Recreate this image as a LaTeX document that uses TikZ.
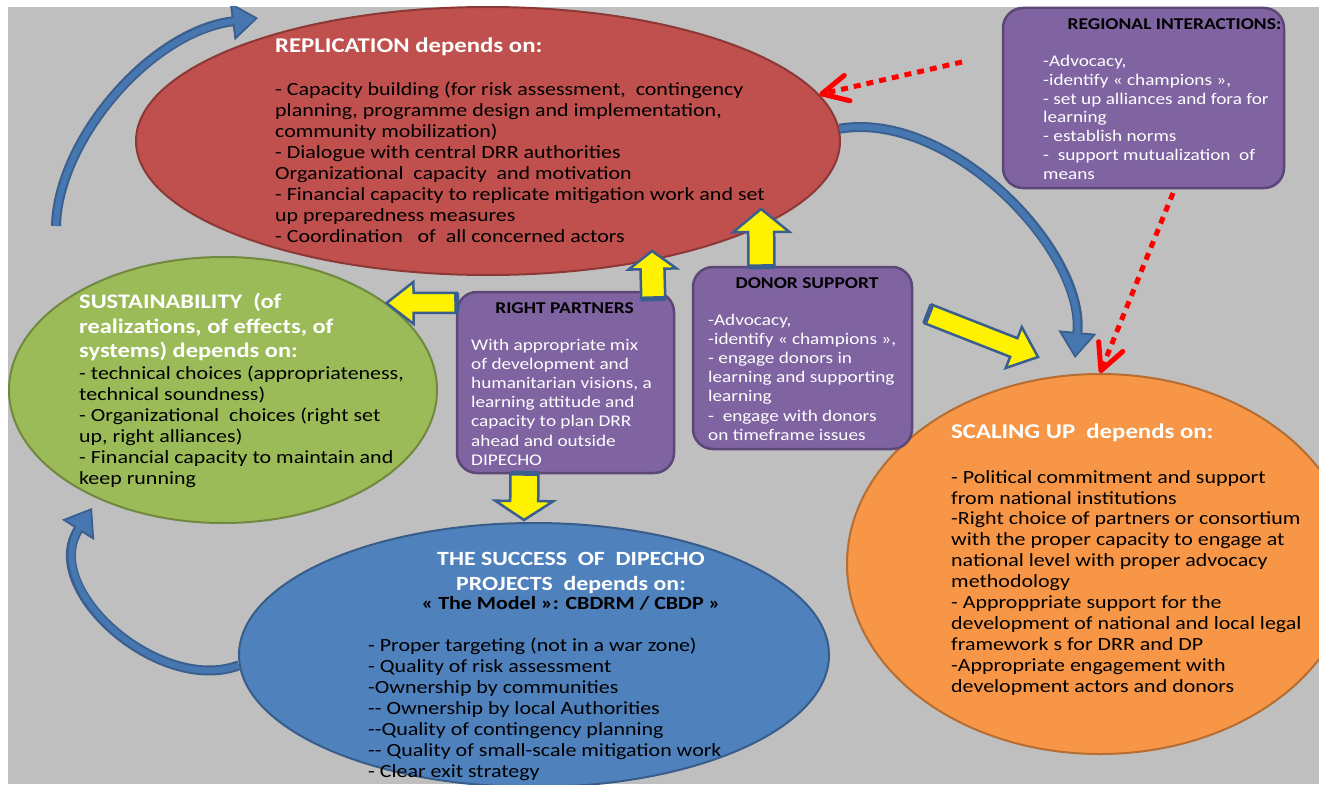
\documentclass[tikz,border=0pt]{standalone}
\usepackage{fontspec}
\setmainfont{Carlito}[FakeStretch=1.18]
\usetikzlibrary{shapes.geometric,arrows.meta,calc}

\definecolor{bggray}{HTML}{BFBFBF}
\definecolor{repred}{HTML}{C0504D}
\definecolor{repline}{HTML}{8C3836}
\definecolor{susgreen}{HTML}{9BBB59}
\definecolor{susline}{HTML}{71893F}
\definecolor{blufill}{HTML}{4F81BD}
\definecolor{bluline}{HTML}{385D8A}
\definecolor{orafill}{HTML}{F79646}
\definecolor{oraline}{HTML}{B66D31}
\definecolor{purfill}{HTML}{8064A2}
\definecolor{purline}{HTML}{5C4776}
\definecolor{arrline}{HTML}{3A5F8E}
\definecolor{arrfill}{HTML}{4777B0}

\tikzset{
  oval/.style={ellipse, inner sep=0pt, line width=2pt},
  bubble/.style={rectangle, rounded corners=20pt, fill=purfill, draw=purline, line width=2.5pt, inner sep=0pt},
  ovalhead/.style={anchor=north west, inner sep=0pt, align=left, text=white, font=\bfseries\fontsize{21}{24}\selectfont},
  ovaltext/.style={anchor=north west, inner sep=0pt, align=left, font=\fontsize{18.6}{20.9}\selectfont},
  bubblehead/.style={anchor=north, inner sep=0pt, font=\bfseries\fontsize{16.5}{19}\selectfont},
  bubbletext/.style={anchor=north west, inner sep=0pt, align=left, text=white, font=\fontsize{16.3}{19.1}\selectfont},
  yellowarrow/.style={fill=yellow, draw=arrline, line width=2.5pt, line join=miter},
  curveback/.style={draw=arrline, line width=10pt, -{Triangle[length=26pt,width=38pt,line width=1pt]}},
  curvefront/.style={draw=arrfill, line width=6pt, shorten >=3pt, -{Triangle[length=21pt,width=30pt,line width=1pt]}},
  reddots/.style={draw=red, line width=5pt, dash pattern=on 7pt off 6pt, -{Straight Barb[length=26pt,width=26pt,round]}}
}

% tail, tip, half shaft, half head, head length
\newcommand{\blockarrow}[5]{%
  \coordinate (ba-a) at #1;
  \coordinate (ba-b) at #2;
  \coordinate (ba-c) at ($(ba-b)!#5pt!(ba-a)$);
  \draw[yellowarrow] ($(ba-a)!#3pt!90:(ba-b)$) -- ($(ba-c)!#3pt!-90:(ba-a)$)
    -- ($(ba-c)!#4pt!-90:(ba-a)$) -- (ba-b) -- ($(ba-c)!#4pt!90:(ba-a)$)
    -- ($(ba-c)!#3pt!90:(ba-a)$) -- ($(ba-a)!#3pt!-90:(ba-b)$) -- cycle;
  \draw[arrline, line width=5pt] ($(ba-a)!#3pt!90:(ba-b)$) -- ($(ba-a)!#3pt!-90:(ba-b)$);
}

\begin{document}
\begin{tikzpicture}[x=1pt, y=-1pt, line join=round]
\useasboundingbox (0,0) rectangle (1319,784);
\fill[white] (0,0) rectangle (1319,784);
\begin{scope}
\clip (8,7) rectangle (1319,784);
\fill[bggray] (8,7) rectangle (1319,784);

% the four ovals
\node[oval, fill=repred, draw=repline, minimum width=704pt, minimum height=268pt] (rep) at (488,141) {};
\node[oval, fill=susgreen, draw=susline, minimum width=428pt, minimum height=266pt] (sus) at (223,390) {};
\node[oval, fill=blufill, draw=bluline, minimum width=590pt, minimum height=264pt] (blu) at (534,655) {};
\node[oval, fill=orafill, draw=oraline, minimum width=506pt, minimum height=380pt] (scl) at (1100,564) {};

% the three boxes
\node[bubble, minimum width=217pt, minimum height=181pt] (rp) at (565.5,382.5) {};
\node[bubble, minimum width=219pt, minimum height=182pt] (don) at (802.5,358) {};
\node[bubble, minimum width=281pt, minimum height=180pt] (reg) at (1143.5,98) {};

% free ends
\coordinate (susout) at (56,226);
\coordinate (repin) at (258,18);
\coordinate (susin) at (92,508);
\coordinate (sclin) at (1075,358);
\coordinate (regout) at (962,62);
\coordinate (regdown) at (1173,193);

% yellow arrows
\blockarrow{($(rp.north west)+(1,12)$)}{(sus.28)}{10}{21}{27}
\blockarrow{($(rp.north east)+(-22,8)$)}{($(rep.south)+(164,-25)$)}{12}{24}{18}
\blockarrow{($(don.north)+(-41,1)$)}{($(rep.south)+(273,-67)$)}{13}{28}{23}
\blockarrow{($(rp.south)+(-41,-1)$)}{($(blu.north)+(-10,-2)$)}{14}{29}{19}
\blockarrow{($(don.east)+(15,-44)$)}{($(scl.north)+(-62,-16)$)}{10}{22}{26}

% blue curved arrows
\foreach \sty in {curveback,curvefront}{
\draw[\sty] (susout) .. controls (58,140) and (150,32) .. (repin);
\draw[\sty] (blu.182) .. controls (160,695) and (40,590) .. (susin);
\draw[\sty] (rep.2) .. controls (950,110) and (1085,250) .. (sclin);
}

% red dotted arrows
\draw[reddots] (regout) -- (rep.8);
\draw[reddots] (regdown) -- (scl.north);

% texts
\node[ovalhead] (rept) at (275,38) {REPLICATION depends on:};
\node[ovaltext] (repb) at (275,82) {- Capacity building (for risk assessment,\ \ contingency\\
planning, programme design and implementation,\\
community mobilization)\\
- Dialogue with central DRR authorities\\
Organizational\ \ capacity\ \ and motivation\\
- Financial capacity to replicate mitigation work and set\\
up preparedness measures\\
- Coordination\ \ \ of\ \ all concerned actors};

\node[ovalhead, font=\bfseries\fontsize{20.7}{24.6}\selectfont] (sust) at (79,293) {SUSTAINABILITY\ \ (of\\
realizations, of effects, of\\
systems) depends on:};
\node[ovaltext] (susb) at (79,366) {- technical choices (appropriateness,\\
technical soundness)\\
- Organizational\ \ choices (right set\\
up, right alliances)\\
- Financial capacity to maintain and\\
keep running};

\node[ovalhead, anchor=north, align=center, font=\bfseries\fontsize{20.2}{25}\selectfont] (blut) at (571,552) {THE SUCCESS\ \ OF\ \ DIPECHO\\
PROJECTS\ \ depends on:};
\node[anchor=north, inner sep=0pt, font=\bfseries\fontsize{18.6}{21}\selectfont] (blus) at (571,596) {« The Model »: CBDRM / CBDP »};
\node[ovaltext] (blub) at (368,638) {- Proper targeting (not in a war zone)\\
- Quality of risk assessment\\
-Ownership by communities\\
-{}- Ownership by local Authorities\\
-{}-Quality of contingency planning\\
-{}- Quality of small-scale mitigation work\\
- Clear exit strategy};

\node[ovalhead] (sclt) at (951,424) {SCALING UP\ \ depends on:};
\node[ovaltext] (sclb) at (951,470) {- Political commitment and support\\
from national institutions\\
-Right choice of partners or consortium\\
with the proper capacity to engage at\\
national level with proper advocacy\\
methodology\\
- Approppriate support for the\\
development of national and local legal\\
framework s for DRR and DP\\
-Appropriate engagement with\\
development actors and donors};

\node[bubblehead] (rpt) at (564.5,302) {RIGHT PARTNERS};
\node[bubbletext] (rpb) at (471,339) {With appropriate mix\\
of development and\\
humanitarian visions, a\\
learning attitude and\\
capacity to plan DRR\\
ahead and outside\\
DIPECHO};

\node[bubblehead] (dont) at (807,277) {DONOR SUPPORT};
\node[bubbletext] (donb) at (708,314) {-Advocacy,\\
-identify « champions »,\\
- engage donors in\\
learning and supporting\\
learning\\
-\ \ engage with donors\\
on timeframe issues};

\node[bubblehead] (regt) at (1174.5,18) {REGIONAL INTERACTIONS:};
\node[bubbletext, font=\fontsize{16.3}{18.8}\selectfont] (regb) at (1043,55) {-Advocacy,\\
-identify « champions »,\\
- set up alliances and fora for\\
learning\\
- establish norms\\
-\ \ support mutualization\ \ of\\
means};
\end{scope}
\end{tikzpicture}
\end{document}
